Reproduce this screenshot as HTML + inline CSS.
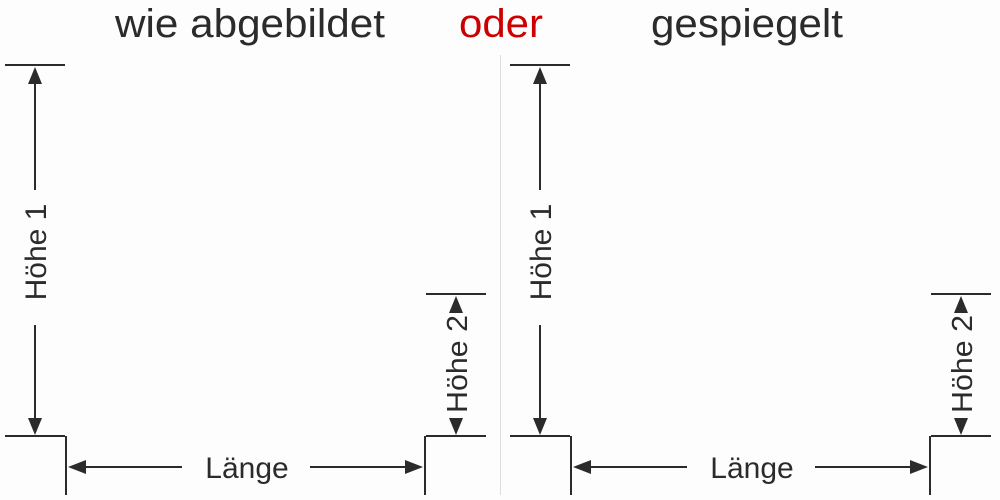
<!DOCTYPE html>
<html><head><meta charset="utf-8"><style>
html,body{margin:0;padding:0;background:#fff;}
svg{display:block;}
text{font-family:"Liberation Sans",Arial,sans-serif;}
</style></head><body>
<svg width="1000" height="500" viewBox="0 0 1000 500" xmlns="http://www.w3.org/2000/svg">
<rect width="1000" height="500" fill="#fdfdfd"/>
<line x1="500.5" y1="55" x2="500.5" y2="495" stroke="#ddd" stroke-width="1"/>
<text x="115" y="37" font-size="40" fill="#2b2b2b" textLength="270" lengthAdjust="spacingAndGlyphs">wie abgebildet</text>
<text x="459" y="37" font-size="40" fill="#cc0000" textLength="84" lengthAdjust="spacingAndGlyphs">oder</text>
<text x="651" y="37" font-size="40" fill="#2b2b2b" textLength="192" lengthAdjust="spacingAndGlyphs">gespiegelt</text>
<g id="p" stroke="#2b2b2b" stroke-width="2" fill="none">
<line x1="5" y1="65" x2="65" y2="65"/>
<line x1="5" y1="436" x2="65" y2="436"/>
<line x1="66" y1="436" x2="66" y2="495"/>
<line x1="35" y1="80" x2="35" y2="190"/>
<line x1="35" y1="325" x2="35" y2="422"/>
<line x1="426" y1="294" x2="486" y2="294"/>
<line x1="426" y1="436" x2="486" y2="436"/>
<line x1="425" y1="436" x2="425" y2="495"/>
<line x1="82" y1="467" x2="182" y2="467"/>
<line x1="310" y1="467" x2="410" y2="467"/>
<g fill="#2b2b2b" stroke="none">
<polygon points="35,67 28,84 42,84"/>
<polygon points="35,435 28,418 42,418"/>
<polygon points="456,296 449,313 463,313"/>
<polygon points="456,435 449,418 463,418"/>
<polygon points="68,467 86,460 86,474"/>
<polygon points="423,467 405,460 405,474"/>
<text x="247" y="478" font-size="30" text-anchor="middle">Länge</text>
<text transform="translate(46,252) rotate(-90)" font-size="30" text-anchor="middle">Höhe 1</text>
<text transform="translate(467,364) rotate(-90)" font-size="29" text-anchor="middle" textLength="98" lengthAdjust="spacingAndGlyphs">Höhe 2</text>
</g>
</g>
<use href="#p" transform="translate(505,0)"/>
</svg>
</body></html>
